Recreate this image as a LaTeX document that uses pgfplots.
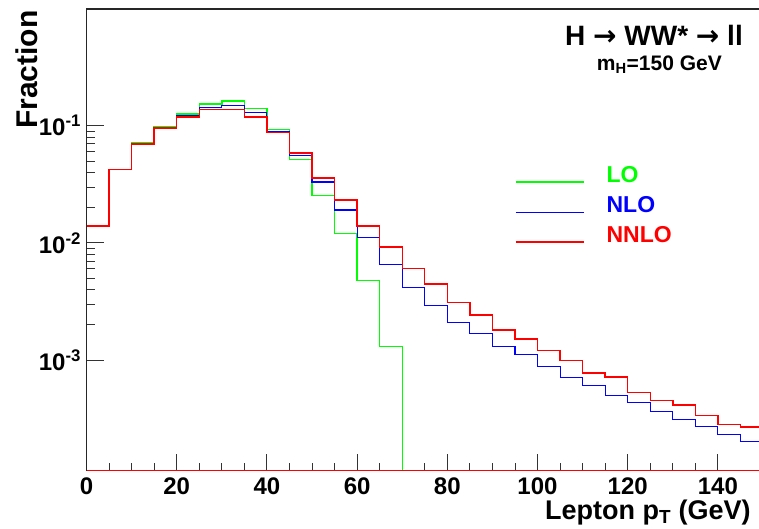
\documentclass[border=0pt]{standalone}
\usepackage{fontspec}
\setmainfont{Liberation Sans}
\newfontfamily\djv{DejaVu Sans}
\usepackage{pgfplots}
\pgfplotsset{compat=1.18}
\definecolor{rgreen}{rgb}{0,1,0}
\definecolor{rblue}{rgb}{0,0,1}
\definecolor{rred}{rgb}{1,0,0}
\begin{document}
\begin{tikzpicture}[x=1pt,y=1pt]
\useasboundingbox (0,0) rectangle (759,529);
\begin{axis}[
  at={(86.5pt,58.3pt)}, anchor=south west,
  width=676.5pt, height=461.7pt, scale only axis,
  xmin=0, xmax=150, ymode=log, ymin=1.14e-4, ymax=0.99,
  xtick={0,20,...,140}, minor x tick num=3,
  ytick={1e-3,1e-2,1e-1},
  yticklabels={10\textsuperscript{-3},10\textsuperscript{-2},10\textsuperscript{-1}},
  xtick pos=bottom, ytick pos=left,
  tick align=inside,
  major tick length=17pt, minor tick length=8pt,
  axis line style={line width=1.2pt, black!85},
  every tick/.style={black!80, line width=0.9pt},
  /pgf/number format/assume math mode=true,
  ticklabel style={font=\fontsize{24}{27}\selectfont\bfseries},
  xticklabel style={yshift=-4pt},
  yticklabel style={xshift=-2pt},
  xlabel={Lepton p\textsubscript{T} (GeV)},
  ylabel={Fraction},
  xlabel style={font=\fontsize{27}{30}\selectfont\bfseries, inner sep=0pt, at={(axis description cs:0.982,-0.09)}, anchor=east},
  ylabel style={font=\fontsize{30}{33}\selectfont\bfseries, inner sep=0pt, at={(axis description cs:-0.088,0.997)}, anchor=east},
  legend cell align=left,
  legend image code/.code={\draw[#1] (0pt,-7pt) -- (68pt,-7pt);},
  legend style={draw=none, fill=none, at={(axis description cs:0.6334,0.66)}, anchor=north west,
    font=\fontsize{23}{26}\selectfont\bfseries, row sep=12pt, inner sep=0pt,
    nodes={text height=16pt, text depth=2pt, inner sep=0pt},
    /tikz/every odd column/.append style={column sep=22pt}},
  clip=false,
]
\addplot[rgreen, line width=1.4pt, const plot mark left] coordinates {
(0,0.0140) (5,0.0422) (10,0.0716) (15,0.0988) (20,0.126) (25,0.153) (30,0.163) (35,0.140)
(40,0.093) (45,0.0513) (50,0.0253) (55,0.0121) (60,0.0048) (65,0.00131) (70,1.14e-4) (150,1.14e-4)};
\addlegendentry{\textcolor{rgreen}{LO}}
\addplot[rblue, line width=1.1pt, const plot mark left] coordinates {
(0,0.0140) (5,0.0422) (10,0.0705) (15,0.097) (20,0.121) (25,0.143) (30,0.149) (35,0.130)
(40,0.0896) (45,0.0558) (50,0.0331) (55,0.0191) (60,0.01107) (65,0.0066) (70,0.00415) (75,0.00291)
(80,0.00211) (85,0.00170) (90,0.00131) (95,0.00112) (100,0.00089) (105,0.000715) (110,0.00061)
(115,0.000501) (120,0.000437) (125,0.000366) (130,0.000314) (135,0.00027) (140,0.000233) (145,0.000204) (150,0.000204)};
\addlegendentry{\textcolor{rblue}{NLO}}
\addplot[rred, line width=1.4pt, const plot mark left] coordinates {
(0,0.0140) (5,0.0422) (10,0.0698) (15,0.0955) (20,0.1186) (25,0.138) (30,0.138) (35,0.1186)
(40,0.0871) (45,0.0585) (50,0.0358) (55,0.0232) (60,0.0140) (65,0.00922) (70,0.00603) (75,0.00446)
(80,0.00310) (85,0.00242) (90,0.00181) (95,0.00151) (100,0.00121) (105,0.00099) (110,0.00078)
(115,0.000716) (120,0.000527) (125,0.000451) (130,0.000414) (135,0.000336) (140,0.000283) (145,0.00027) (150,0.00027)};
\addlegendentry{\textcolor{rred}{NNLO}}
\addplot[rred, line width=1.4pt, forget plot] coordinates {(0,1.14e-4) (150,1.14e-4)};
\node[anchor=east, font=\fontsize{28}{32}\selectfont\bfseries, inner sep=0pt] at (axis description cs:0.9704,0.942) {H {\djv→} WW* {\djv→} ll};
\node[anchor=east, font=\fontsize{21}{24}\selectfont\bfseries, inner sep=0pt] at (axis description cs:0.9394,0.879) {m\textsubscript{H}=150 GeV};
\end{axis}
\end{tikzpicture}
\end{document}
